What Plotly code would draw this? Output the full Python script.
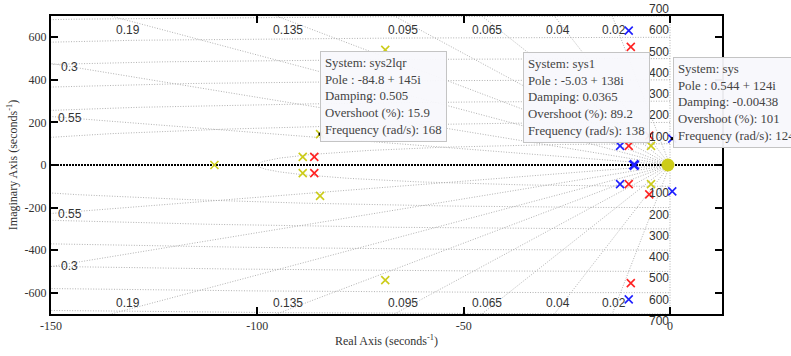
import numpy as np
import plotly.graph_objects as go

# ---- data ----
sys_re = [0.544, 0.544, -12.1, -12.1, -10.0, -10.0, -8.7]
sys_im = [124, -124, 90, -90, 631, -631, 0]

sys1_re = [-5.03, -5.03, -10.0, -10.0, -9.5, -9.5, -86.2, -86.2]
sys1_im = [138, -138, 90, -90, 555, -555, 38, -38]

lqr_re = [-84.8, -84.8, -69.0, -69.0, -89.0, -89.0, -110.4, -4.6, -4.6]
lqr_im = [145, -145, 541, -541, 38, -38, 0, 90, -90]
lqr_cluster_re = [-0.5]
lqr_cluster_im = [0]

zeta_vals = [0.02, 0.04, 0.065, 0.095, 0.135, 0.19, 0.3, 0.55]
zeta_top_labels = ["0.02", "0.04", "0.065", "0.095", "0.135", "0.19"]
zeta_left_labels = ["0.3", "0.55"]
wn_vals = [100, 200, 300, 400, 500, 600, 700]

x_ticks = [-150, -100, -50, 0]
y_ticks = [-600, -400, -200, 0, 200, 400, 600]

tip_sys2lqr = ["System: sys2lqr", "Pole : -84.8 + 145i", "Damping: 0.505",
               "Overshoot (%): 15.9", "Frequency (rad/s): 168"]
tip_sys1 = ["System: sys1", "Pole : -5.03 + 138i", "Damping: 0.0365",
            "Overshoot (%): 89.2", "Frequency (rad/s): 138"]
tip_sys = ["System: sys", "Pole : 0.544 + 124i", "Damping: -0.00438",
           "Overshoot (%): 101", "Frequency (rad/s): 124"]

XR = [-150, 12.6]
YR = [-700, 700]

GRID = "#a8a8a8"
BLUE = "#1f1fff"
RED = "#ff2222"
YEL = "#cccc1a"
SANS = "Liberation Sans, Arial, sans-serif"
SERIF = "Liberation Serif, Times New Roman, serif"

fig = go.Figure()

# frequency circles (left half)
th = np.linspace(np.pi / 2, 3 * np.pi / 2, 721)
for wn in wn_vals:
    fig.add_trace(go.Scatter(x=wn * np.cos(th), y=wn * np.sin(th), mode="lines",
                             line=dict(color=GRID, width=0.9, dash="1px,1.6px"),
                             hoverinfo="skip", showlegend=False))
# damping lines
for z in zeta_vals:
    L = 2000
    dx = -z * L
    dy = np.sqrt(1 - z * z) * L
    fig.add_trace(go.Scatter(x=[dx, 0, dx], y=[dy, 0, -dy], mode="lines",
                             line=dict(color=GRID, width=0.9, dash="1px,1.6px"),
                             hoverinfo="skip", showlegend=False))
# imaginary axis
fig.add_trace(go.Scatter(x=[0, 0], y=YR, mode="lines",
                         line=dict(color=GRID, width=0.9, dash="1px,1.6px"),
                         hoverinfo="skip", showlegend=False))
# real axis
fig.add_trace(go.Scatter(x=XR, y=[0, 0], mode="lines",
                         line=dict(color="black", width=2, dash="2px,1px"),
                         hoverinfo="skip", showlegend=False))

def xs(name, xr, yi, color, size=8, w=1.6):
    fig.add_trace(go.Scatter(x=xr, y=yi, mode="markers", name=name,
                             marker=dict(symbol="x-thin", size=size, color=color,
                                         line=dict(color=color, width=w)),
                             showlegend=False))

fig.add_trace(go.Scatter(x=lqr_cluster_re, y=lqr_cluster_im, mode="markers",
                         marker=dict(symbol="circle", size=13, color=YEL),
                         showlegend=False))
xs("sys2lqr", lqr_re, lqr_im, YEL)
xs("sys1", sys1_re, sys1_im, RED)
xs("sys", sys_re, sys_im, BLUE)
xs("sys", sys_re[-1:], sys_im[-1:], BLUE, size=9, w=2.6)

# datatip dots
fig.add_trace(go.Scatter(x=[-84.8, -5.03, 0.544], y=[145, 138, 124], mode="markers",
                         marker=dict(symbol="square", size=3, color="black"),
                         showlegend=False))

ann = []
LBL = dict(family=SANS, size=12, color="#333")
for z, lab in zip(zeta_vals[:6], zeta_top_labels):
    slope = np.sqrt(1 - z * z) / z
    xl = -700 / slope * 0.97
    ann.append(dict(x=xl, y=635, text=lab, showarrow=False, font=LBL))
    ann.append(dict(x=xl, y=-648, text=lab, showarrow=False, font=LBL))
for z, lab in zip(zeta_vals[6:], zeta_left_labels):
    slope = np.sqrt(1 - z * z) / z
    xl = -145.5
    ann.append(dict(x=xl, y=-xl * slope, text=lab, showarrow=False, font=LBL))
    ann.append(dict(x=xl, y=xl * slope - 10, text=lab, showarrow=False, font=LBL))
for wn in wn_vals:
    ann.append(dict(x=0, y=wn, text=str(wn), showarrow=False, xanchor="right",
                    yanchor="bottom", xshift=1, yshift=-2, font=LBL))
    ann.append(dict(x=0, y=-wn, text=str(wn), showarrow=False, xanchor="right",
                    yanchor="top", xshift=1, yshift=2, font=LBL))

def tip(lines, x, y):
    ann.append(dict(x=x, y=y, text="<br>".join(lines), showarrow=False,
                    xanchor="left", yanchor="top", align="left",
                    bgcolor="rgba(248,248,252,0.95)", bordercolor="#c4c4c4",
                    borderwidth=1, borderpad=4,
                    font=dict(family=SERIF, size=12.8, color="#444")))

tip(tip_sys2lqr, -84.7, 536)
tip(tip_sys1, -35.7, 532)
tip(tip_sys, 0.7, 508)

AX = dict(showgrid=False, zeroline=False, showline=True, linecolor="black",
          linewidth=2, mirror="ticks", ticks="inside", ticklen=7,
          tickcolor="black", tickwidth=2, automargin=False,
          tickfont=dict(family=SERIF, size=12, color="#333"))

fig.update_layout(
    width=791, height=356,
    margin=dict(l=51, r=69, t=16, b=42),
    plot_bgcolor="white", paper_bgcolor="white",
    annotations=ann,
    xaxis=dict(range=XR, tickvals=x_ticks, ticktext=[str(v) for v in x_ticks],
               title=dict(text="Real Axis (seconds<sup>-1</sup>)",
                          font=dict(family=SERIF, size=12, color="#333"), standoff=4),
               **AX),
    yaxis=dict(range=YR, tickvals=y_ticks, ticktext=[str(v) for v in y_ticks],
               title=dict(text="Imaginary Axis (seconds<sup>-1</sup>)",
                          font=dict(family=SERIF, size=12, color="#333"), standoff=4),
               **AX),
)

fig.write_html("out.html", config={"displayModeBar": False},
               post_script="document.body.style.margin='0px';document.body.style.overflow='hidden';")
